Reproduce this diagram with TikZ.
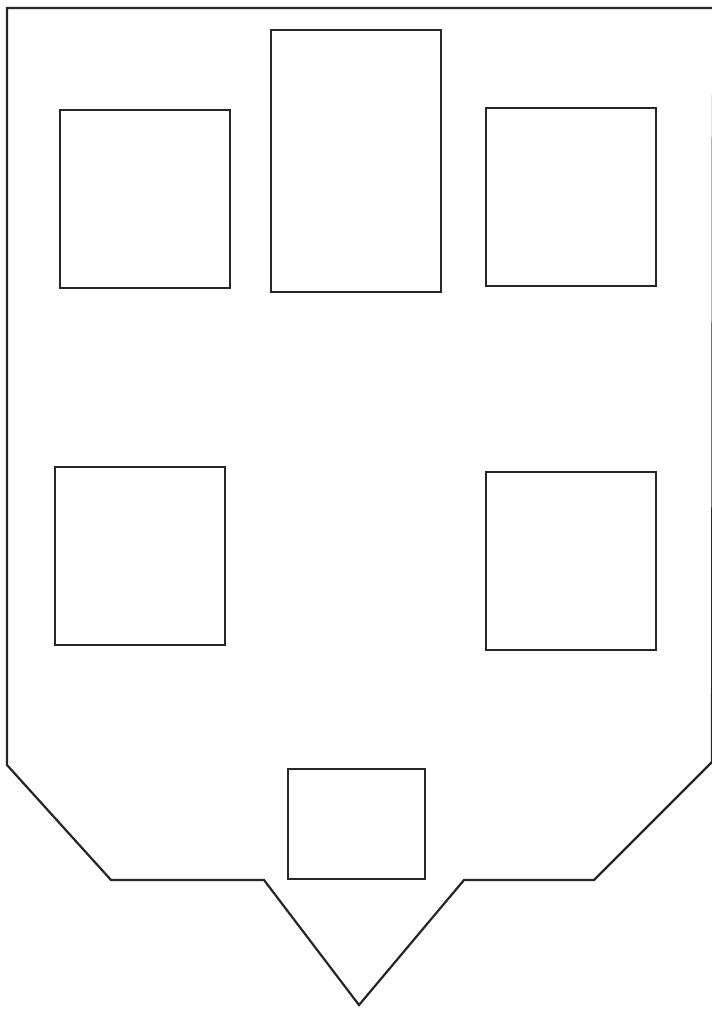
\documentclass[tikz,border=0pt]{standalone}
\begin{document}
\begin{tikzpicture}[x=1pt,y=-1pt,
  edge/.style={line width=2.2pt, draw=black!85, line join=miter},
  win/.style={edge, fill=white}]
\useasboundingbox (0,0) rectangle (712,1010);
\begin{scope}
\clip (0,0) rectangle (712,1010);
\draw[edge] (712,8) -- (7,8) -- (7,765) -- (111,880) -- (264,880) -- (359,1005) -- (464,880) -- (594,880) -- (712,762) -- (712.9,95);
\end{scope}
\draw[win] (60,110) rectangle (230,288);
\draw[win] (271,30) rectangle (441,292);
\draw[win] (486,108) rectangle (656,286);
\draw[win] (55,467) rectangle (225,645);
\draw[win] (486,472) rectangle (656,650);
\draw[win] (288,769) rectangle (425,879);
\end{tikzpicture}
\end{document}
